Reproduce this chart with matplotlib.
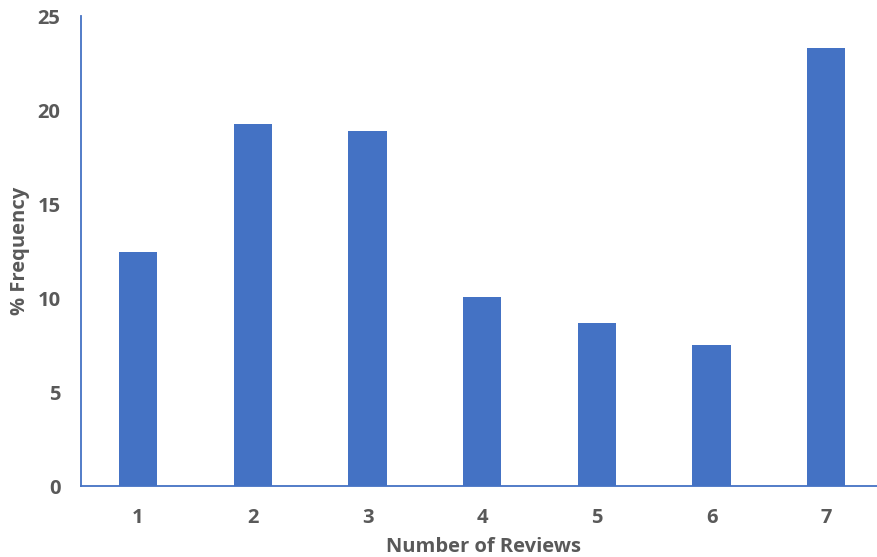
import numpy as np
from matplotlib import pyplot as plt

# データ
reviews = [1, 2, 3, 4, 5, 6, 7]
frequency = [12.47, 19.23, 18.88, 10.05, 8.67, 7.48, 23.29]
yticks = [0, 5, 10, 15, 20, 25]

bar_color = "#4472C4"
text_color = "#595959"

plt.rcParams["font.family"] = ["Open Sans", "DejaVu Sans"]
plt.rcParams["font.weight"] = "bold"

fig = plt.figure(figsize=(8.78, 5.57), dpi=100)
ax = fig.add_axes([80.7 / 878, 1 - 486 / 557, 1 - 80.7 / 878, 470 / 557])

ax.bar(reviews, frequency, width=0.335, color=bar_color, zorder=2)

ax.set_xlim(0.5, 0.5 + (878 - 80.7) / 114.7)
ax.set_ylim(0, 25)
ax.set_xticks(reviews)
ax.set_yticks(yticks)

for s in ["top", "right"]:
    ax.spines[s].set_visible(False)
for s in ["left", "bottom"]:
    ax.spines[s].set_color(bar_color)
    ax.spines[s].set_linewidth(1.3)

ax.tick_params(axis="both", length=0, labelsize=14.5, labelcolor=text_color)
ax.tick_params(axis="x", pad=15.5)
ax.tick_params(axis="y", pad=14.5)

ax.set_xlabel("Number of Reviews", fontsize=14.5, color=text_color, fontweight="bold")
ax.set_ylabel("% Frequency", fontsize=14.5, color=text_color, fontweight="bold")
ax.xaxis.set_label_coords(0.505, -0.13)
ax.yaxis.set_label_coords(-0.076, 0.5)
ax.xaxis.label.set_va("center")
ax.yaxis.label.set_va("center")

fig.savefig("out.png", dpi=100)
